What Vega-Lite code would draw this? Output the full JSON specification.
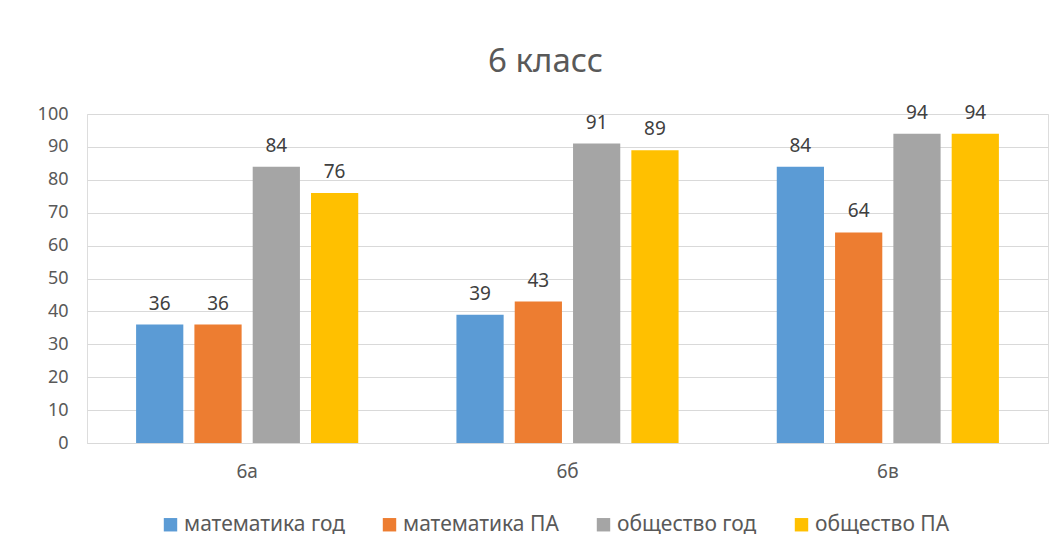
{
  "$schema": "https://vega.github.io/schema/vega-lite/v6.json",
  "width": 961,
  "height": 329,
  "autosize": {"type": "none"},
  "padding": {"left": 87, "top": 114, "right": 16, "bottom": 115},
  "background": "white",
  "title": {
    "text": "6 класс",
    "fontSize": 33,
    "font": "Noto Sans",
    "fontWeight": "normal",
    "color": "#595959",
    "anchor": "middle",
    "dx": -22,
    "offset": 25
  },
  "data": {
    "values": [
      {"class": "6а", "series": "математика год", "value": 36},
      {"class": "6а", "series": "математика ПА", "value": 36},
      {"class": "6а", "series": "общество год", "value": 84},
      {"class": "6а", "series": "общество ПА", "value": 76},
      {"class": "6б", "series": "математика год", "value": 39},
      {"class": "6б", "series": "математика ПА", "value": 43},
      {"class": "6б", "series": "общество год", "value": 91},
      {"class": "6б", "series": "общество ПА", "value": 89},
      {"class": "6в", "series": "математика год", "value": 84},
      {"class": "6в", "series": "математика ПА", "value": 64},
      {"class": "6в", "series": "общество год", "value": 94},
      {"class": "6в", "series": "общество ПА", "value": 94}
    ]
  },
  "encoding": {
    "x": {
      "field": "class", "type": "nominal", "sort": ["6а", "6б", "6в"],
      "scale": {"paddingInner": 0, "paddingOuter": 0},
      "axis": {
        "title": null, "labelAngle": 0, "ticks": false, "domainColor": "#d9d9d9",
        "labelFontSize": 19, "labelColor": "#595959", "labelPadding": 19,
        "labelFont": "Noto Sans"
      }
    },
    "xOffset": {
      "field": "series", "type": "nominal",
      "sort": ["математика год", "математика ПА", "общество год", "общество ПА"],
      "scale": {"paddingInner": 0.19, "paddingOuter": 0.842}
    },
    "y": {
      "field": "value", "type": "quantitative",
      "scale": {"domain": [0, 100], "nice": false},
      "axis": {
        "title": null, "values": [0,10,20,30,40,50,60,70,80,90,100],
        "labelOverlap": false,
        "domain": false, "ticks": false, "gridColor": "#d9d9d9",
        "labelFontSize": 18, "labelColor": "#595959", "labelPadding": 19,
        "labelFont": "Noto Sans"
      }
    }
  },
  "layer": [
    {
      "mark": {"type": "bar"},
      "encoding": {
        "color": {
          "field": "series", "type": "nominal",
          "sort": ["математика год", "математика ПА", "общество год", "общество ПА"],
          "scale": {
            "domain": ["математика год", "математика ПА", "общество год", "общество ПА"],
            "range": ["#5B9BD5", "#ED7D31", "#A5A5A5", "#FFC000"]
          },
          "legend": {
            "title": null, "orient": "none", "legendX": 73, "legendY": 400,
            "direction": "horizontal", "columns": 4, "columnPadding": 34,
            "symbolType": "square", "symbolSize": 180, "symbolStrokeWidth": 0,
            "labelFontSize": 21, "labelColor": "#595959", "labelOffset": 3,
            "labelLimit": 400,
            "labelFont": "Noto Sans"
          }
        }
      }
    },
    {
      "mark": {"type": "text", "baseline": "bottom", "dy": -11, "fontSize": 19, "color": "#404040", "font": "Noto Sans"},
      "encoding": {"text": {"field": "value", "type": "quantitative"}}
    }
  ]
}
